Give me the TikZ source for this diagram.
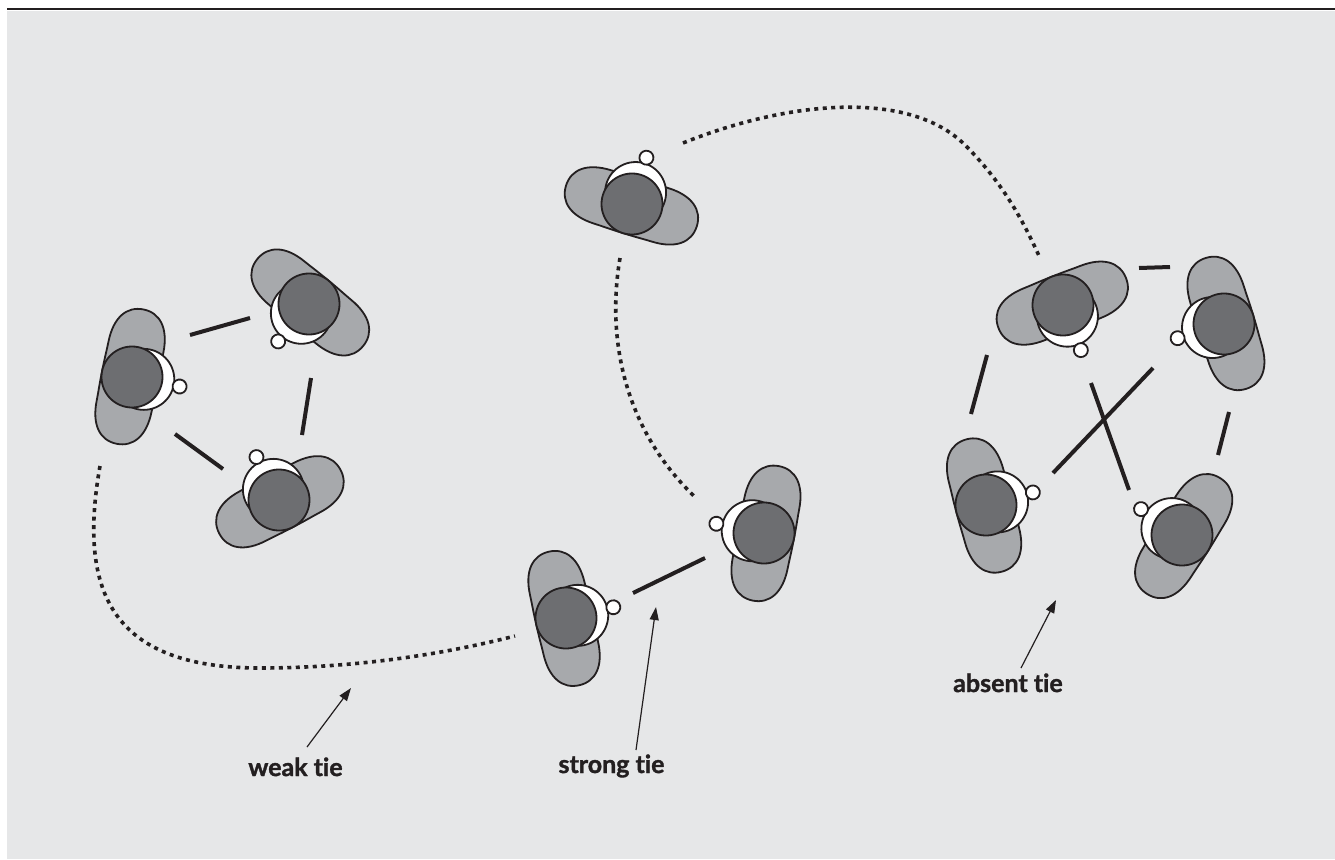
\documentclass[tikz,border=0pt]{standalone}
\usepackage{fontspec}
\setmainfont{Lato}[Ligatures={NoCommon}, BoldFeatures={FakeBold=1.3}]
\usetikzlibrary{arrows.meta}
\definecolor{paper}{HTML}{E6E7E8}
\definecolor{ink}{HTML}{231F20}
\definecolor{shoulder}{HTML}{A7A9AC}
\definecolor{hair}{HTML}{6D6E71}
\tikzset{
  outline/.style={draw=ink, line width=1.8bp},
  % a person seen from above, facing along +x
  person/.pic={
    \draw[outline, fill=shoulder] (26.5,0)
      .. controls (26.5,16) and (26,22) .. (26,30)
      .. controls (26,55) and (15,68.5) .. (-2,68.5)
      .. controls (-19,68.5) and (-30,55) .. (-30,30)
      .. controls (-30,22) and (-30.5,16) .. (-30.5,0)
      .. controls (-30.5,-16) and (-30,-22) .. (-30,-30)
      .. controls (-30,-55) and (-19,-68.5) .. (-2,-68.5)
      .. controls (15,-68.5) and (26,-55) .. (26,-30)
      .. controls (26,-22) and (26.5,-16) .. (26.5,0) -- cycle;
    \draw[outline, fill=white] (12,0) circle[radius=30.5];
    \draw[outline, fill=hair] (0,0) circle[radius=30.5];
    \draw[outline, fill=white] (48.5,0) circle[radius=7];
    \coordinate (-c) at (0,0);
  },
  tie/.style={ink, line width=4bp},
  weak/.style={ink, line width=3.6bp, dash pattern=on 4bp off 4.5bp},
  pointer/.style={ink, line width=1.2bp, -{Triangle[length=13bp,width=9bp]}},
  caption/.style={font=\bfseries\fontsize{25bp}{30bp}\selectfont, text=ink, inner sep=0pt, anchor=base},
}
\begin{document}
\begin{tikzpicture}[x=1bp,y=-1bp]
\useasboundingbox (0,0) rectangle (1335,859);
\fill[white] (0,0) rectangle (1335,859);
\fill[paper] (7,11) rectangle (1335,859);
\fill[ink] (7,7.8) rectangle (1335,10.3);

% people
\pic[rotate=-11.3]  (p1)  at (132,377)  {person};
\pic[rotate=-129.5] (p2)  at (309,304)  {person};
\pic[rotate=117.7]  (p3)  at (279,500)  {person};
\pic[rotate=72.7]   (p4)  at (632,204)  {person};
\pic[rotate=12.8]   (p5)  at (566,618)  {person};
\pic[rotate=169]    (p6)  at (764,533)  {person};
\pic[rotate=-68.4]  (p7)  at (1063,305) {person};
\pic[rotate=-163]   (p8)  at (1224,324) {person};
\pic[rotate=15]     (p9)  at (986,505)  {person};
\pic[rotate=147.7]  (p10) at (1182,535) {person};

% strong ties
\coordinate (a12) at (190,335);  \coordinate (b12) at (250,318);
\coordinate (a23) at (311,378);  \coordinate (b23) at (302,435);
\coordinate (a13) at (175,434);  \coordinate (b13) at (223,469);
\coordinate (a56) at (633,593);  \coordinate (b56) at (705,558);
\coordinate (a78) at (1139,268); \coordinate (b78) at (1170,267);
\coordinate (a79) at (987,355);  \coordinate (b79) at (971,414);
\coordinate (a89) at (1153,368); \coordinate (b89) at (1053,473);
\coordinate (a710) at (1091,383); \coordinate (b710) at (1129,490);
\coordinate (a810) at (1229,412); \coordinate (b810) at (1218,455);
\foreach \t in {12,23,13,56,78,79,89,710,810}
  \draw[tie] (a\t) -- (b\t);

% weak ties
\coordinate (w1s) at (100,466);  \coordinate (w1m) at (260,668);  \coordinate (w1e) at (515,636);
\draw[weak] (w1s) .. controls (78,590) and (110,668) .. (w1m)
  .. controls (370,668) and (460,650) .. (w1e);
\coordinate (w2s) at (620,258);  \coordinate (w2e) at (695,497);
\draw[weak] (w2s) .. controls (606,340) and (625,430) .. (w2e);
\coordinate (w3s) at (683,143);  \coordinate (w3m) at (965,145);  \coordinate (w3e) at (1040,258);
\draw[weak] (w3s) .. controls (790,100) and (910,90) .. (w3m)
  .. controls (1005,185) and (1025,225) .. (w3e);

% captions and pointers
\node[caption] (weaklbl) at (295.5,776) {weak tie};
\node[caption] (stronglbl) at (611.5,773) {strong tie};
\node[caption] (absentlbl) at (1008,692) {absent tie};
\coordinate (weaktail) at (307,747);   \coordinate (weaktip) at (351,688);
\coordinate (strongtail) at (636,750); \coordinate (strongtip) at (656,607);
\coordinate (absenttail) at (1021,668); \coordinate (absenttip) at (1056,600);
\draw[pointer] (weaktail) -- (weaktip);
\draw[pointer] (strongtail) -- (strongtip);
\draw[pointer] (absenttail) -- (absenttip);
\end{tikzpicture}
\end{document}
